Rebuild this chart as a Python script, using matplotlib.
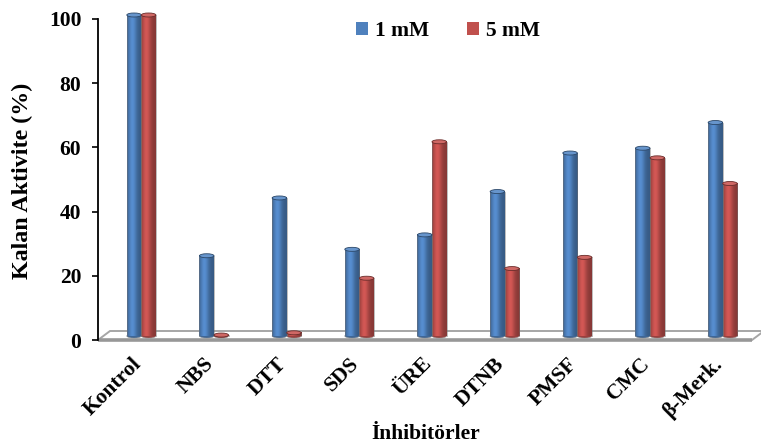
import numpy as np
import matplotlib
matplotlib.use("Agg")
import matplotlib.pyplot as plt
import matplotlib.transforms as mtransforms
from matplotlib.patches import Ellipse, Polygon, Patch
from matplotlib.colors import to_rgb

# Remaining activity (%) for each inhibitor at two concentrations
categories = ["Kontrol", "NBS", "DTT", "SDS", "ÜRE", "DTNB", "PMSF", "CMC", "β-Merk."]
act_1mM = [100, 25, 43, 27, 31.5, 45, 57, 58.5, 66.5]
act_5mM = [100, 0.3, 1, 18, 60.5, 21, 24.5, 55.5, 47.5]
series_labels = ["1 mM", "5 mM"]
series_colors = ["#4F81BD", "#C0504D"]
y_ticks = [0, 20, 40, 60, 80, 100]

plt.rcParams["font.family"] = ["Liberation Serif", "DejaVu Serif"]
plt.rcParams["font.weight"] = "bold"
FS = 15.5

W, H = 761, 447
fig = plt.figure(figsize=(W / 100, H / 100), dpi=100)
ax = fig.add_axes([98 / W, 1 - 340 / H, (752 - 98) / W, (340 - 19) / H])

# cylinders sit half-way into the floor: shift them right and up
depth = mtransforms.ScaledTranslation(7 / 100, 4 / 100, fig.dpi_scale_trans)
bar_trans = ax.transData + depth

bar_w = 0.2
ell_h = 1.25  # height of the end caps in data units

t = np.linspace(0, 1, 64)
profile = 0.70 + 0.40 * np.exp(-((t - 0.36) / 0.30) ** 2)


def gradient(color):
    rgb = np.array(to_rgb(color))
    g = np.clip(profile[:, None] * rgb[None, :], 0, 1)
    return g[None, :, :]


x_idx = np.arange(len(categories))
for k, (vals, col) in enumerate(zip([act_1mM, act_5mM], series_colors)):
    xs = x_idx + (k - 0.5) * bar_w
    rgb = np.array(to_rgb(col))
    bars = ax.bar(xs, vals, width=bar_w, color=col, edgecolor="none",
                  transform=bar_trans, zorder=3)
    grad = gradient(col)
    top_col = np.clip(rgb * 0.92 + 0.12, 0, 1)
    edge_col = np.clip(rgb * 0.55, 0, 1)
    for rect in bars:
        x0, w, h = rect.get_x(), rect.get_width(), rect.get_height()
        xc = x0 + w / 2
        bottom = Ellipse((xc, 0), w, ell_h, transform=bar_trans,
                         facecolor=rgb * 0.8, edgecolor=(0.5, 0.5, 0.5, 0.6),
                         lw=0.6, zorder=2.9, clip_on=False)
        ax.add_patch(bottom)
        ax.imshow(grad, extent=[x0, x0 + w, 0, h], aspect="auto",
                  transform=bar_trans, interpolation="bilinear", zorder=3.1,
                  clip_on=False)
        ax.plot([x0, x0], [0, h], color=(0.45, 0.45, 0.45, 0.55), lw=0.6,
                transform=bar_trans, zorder=3.2, clip_on=False)
        ax.plot([x0 + w, x0 + w], [0, h], color=(0.45, 0.45, 0.45, 0.55),
                lw=0.6, transform=bar_trans, zorder=3.2, clip_on=False)
        top = Ellipse((xc, h), w, ell_h, transform=bar_trans,
                      facecolor=top_col, edgecolor=edge_col, lw=0.6,
                      zorder=3.3, clip_on=False)
        ax.add_patch(top)

# floor slab in axes fraction
ox, oy = 12 / 654, 9 / 321
floor = Polygon([(0, 0), (1, 0), (1 + ox, oy), (ox, oy)], closed=True,
                transform=ax.transAxes, facecolor="white", edgecolor="#a6a6a6",
                lw=1.4, zorder=1, clip_on=False)
ax.add_patch(floor)
ax.plot([0, 1], [0, 0], transform=ax.transAxes, color="#979797", lw=2.6,
        zorder=1.5, clip_on=False, solid_capstyle="butt")

ax.set_xlim(-0.5, len(categories) - 0.5)
ax.set_ylim(0, 100)

for s in ["top", "right", "bottom"]:
    ax.spines[s].set_visible(False)
ax.spines["left"].set_color("black")
ax.spines["left"].set_linewidth(1.3)
ax.spines["left"].set_zorder(4)

ax.set_yticks(y_ticks)
ax.set_yticklabels([str(v) for v in y_ticks], fontsize=FS, fontweight="bold")
ax.tick_params(axis="y", direction="out", length=4, width=1.2, pad=8)

ax.set_xticks(x_idx)
ax.set_xticklabels(categories, fontsize=FS, fontweight="bold", rotation=45,
                   ha="right", rotation_mode="anchor")
ax.tick_params(axis="x", length=0, pad=10)
shift = mtransforms.ScaledTranslation(-3 / 100, 0, fig.dpi_scale_trans)
for lab in ax.get_xticklabels():
    lab.set_transform(lab.get_transform() + shift)

fig.text(22 / W, 1 - 181 / H, "Kalan Aktivite (%)", fontsize=17.3,
         fontweight="bold", rotation=90, ha="center", va="center")
fig.text(426 / W, 1 - 434 / H, "İnhibitörler", fontsize=FS, fontweight="bold",
         ha="center", va="center")

handles = [Patch(facecolor=c, edgecolor="none") for c in series_colors]
fig.legend(handles, series_labels, loc="center",
           bbox_to_anchor=(448 / W, 1 - 31 / H), ncol=2, frameon=False,
           prop={"size": FS, "weight": "bold"}, handlelength=0.55,
           handleheight=0.55, handletextpad=0.3, columnspacing=1.8)

fig.savefig("out.png", dpi=100)
